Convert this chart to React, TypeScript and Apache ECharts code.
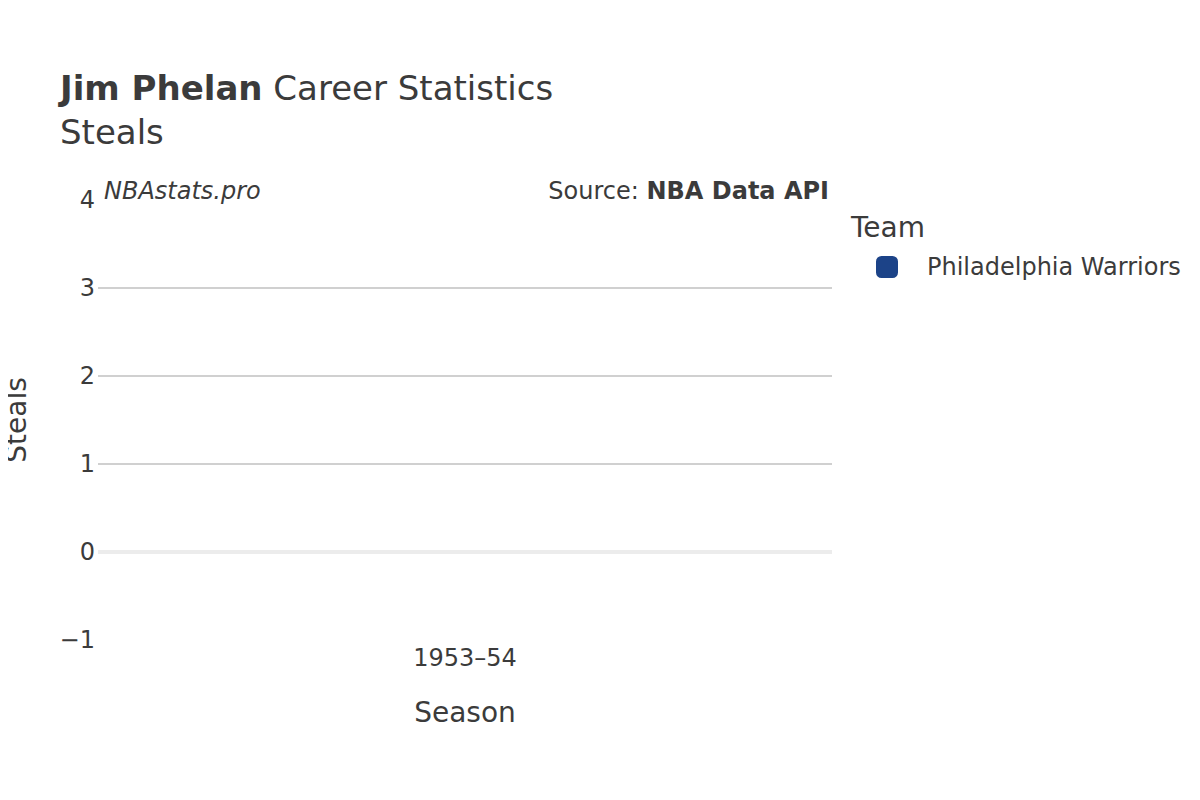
import React, { useEffect, useRef } from "react";
import * as echarts from "echarts";

const seasons = ["1953–54"];
const teamName = "Philadelphia Warriors";
const steals = [0];
const yTicks = [-1, 0, 1, 2, 3, 4];

const FONT = "DejaVu Sans";
const TXT = "#3b3b3b";

export default function App() {
  const ref = useRef<HTMLDivElement>(null);
  useEffect(() => {
    if (!ref.current) return;
    const chart = echarts.init(ref.current, undefined, { renderer: "svg" });
    const gridColors = yTicks.map((t) =>
      t === yTicks[0] || t === yTicks[yTicks.length - 1] || t === 0 ? "rgba(0,0,0,0)" : "#c0c0c0"
    );
    chart.setOption({
      animation: false,
      backgroundColor: "#ffffff",
      textStyle: { fontFamily: FONT, color: TXT },
      title: {
        left: 60,
        top: 66,
        padding: 0,
        text: "{b|Jim Phelan}{n| Career Statistics}\n{n|Steals}",
        textStyle: {
          fontFamily: FONT,
          fontWeight: "normal",
          rich: {
            b: { fontFamily: FONT, fontSize: 34, fontWeight: "bold", color: TXT, lineHeight: 44 },
            n: { fontFamily: FONT, fontSize: 34, fontWeight: "normal", color: TXT, lineHeight: 44 },
          },
        },
      },
      legend: {
        left: 876,
        top: 255,
        padding: 0,
        orient: "vertical",
        icon: "roundRect",
        itemWidth: 22,
        itemHeight: 22,
        data: [teamName],
        textStyle: { fontFamily: FONT, fontSize: 24, color: TXT, padding: [0, 0, 0, 24] },
      },
      grid: {
        left: 98,
        right: 368,
        top: 200,
        bottom: 160,
        containLabel: false,
        outerBoundsMode: "none",
      },
      xAxis: {
        type: "category",
        data: seasons,
        name: "Season",
        nameLocation: "middle",
        nameGap: 58,
        nameTextStyle: { fontFamily: FONT, fontSize: 28, color: TXT },
        axisLine: { show: false },
        axisTick: { show: false },
        axisLabel: { fontFamily: FONT, fontSize: 24, color: TXT, margin: 6 },
        splitLine: { show: false },
      },
      yAxis: {
        type: "value",
        min: -1,
        max: 4,
        interval: 1,
        name: "Steals",
        nameLocation: "middle",
        nameGap: 68,
        nameTextStyle: { fontFamily: FONT, fontSize: 28, color: TXT },
        axisLine: { show: false },
        axisTick: { show: false },
        axisLabel: {
          fontFamily: FONT,
          fontSize: 24,
          color: TXT,
          margin: 3,
          formatter: (v: number) => (v < 0 ? "\u2212" + Math.abs(v) : String(v)),
        },
        splitLine: { show: true, lineStyle: { color: gridColors, width: 1.5 } },
      },
      series: [
        {
          name: teamName,
          type: "bar",
          data: steals,
          barWidth: "70%",
          itemStyle: { color: "#1c4388" },
          markLine: {
            silent: true,
            symbol: "none",
            label: { show: false },
            lineStyle: { color: "#ececec", width: 4, type: "solid" },
            data: [{ yAxis: 0 }],
          },
        },
      ],
      graphic: [
        {
          type: "text",
          left: 104,
          top: 179,
          style: { text: "NBAstats.pro", font: `italic 24px '${FONT}'`, fill: TXT },
        },
        {
          type: "text",
          right: 371,
          top: 179,
          style: {
            text: "{n|Source: }{b|NBA Data API}",
            rich: {
              n: { fontFamily: FONT, fontSize: 24, fill: TXT, color: TXT },
              b: { fontFamily: FONT, fontSize: 24, fontWeight: "bold", fill: TXT, color: TXT },
            },
          },
        },
        {
          type: "text",
          left: 851,
          top: 213,
          style: { text: "Team", font: `28px '${FONT}'`, fill: TXT },
        },
      ],
    });
    return () => chart.dispose();
  }, []);
  return <div ref={ref} style={{ width: 1200, height: 800, margin: -8 }} />;
}
